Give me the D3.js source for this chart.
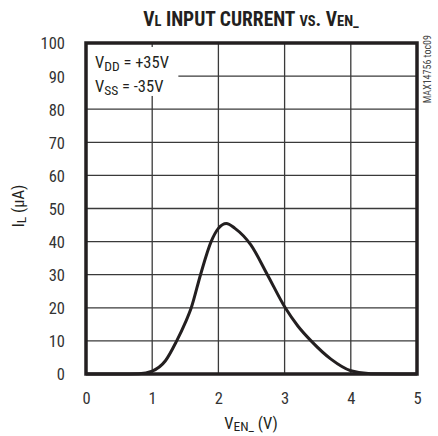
<!DOCTYPE html>
<html>
<head>
<meta charset="utf-8">
<script src="https://cdn.jsdelivr.net/npm/d3@7"></script>
<style>
  body { margin: 0; background: #fff; }
  svg { display: block; }
  text { font-family: "Roboto Condensed", "Roboto", sans-serif; font-stretch: condensed; fill: #231f20; }
  .tick text { font-size: 16.5px; font-family: "Roboto Condensed", "Roboto", sans-serif; fill: #333; }
</style>
</head>
<body>
<div class="first"></div>
<script>
// VL input current vs VEN_ curve
var ven = [0, 0.5, 0.8, 1.0, 1.2, 1.37, 1.5, 1.59, 1.73, 1.89, 2.0, 2.12, 2.25, 2.49, 2.74, 3.01, 3.2, 3.4, 3.7, 4.0, 4.3, 5];
var il  = [0, 0, 0.1, 0.9, 4, 10, 15.5, 20, 30, 40, 44, 45.5, 44, 39, 30, 20, 14.5, 10, 4.5, 1, 0.1, 0];

var xTicks = [0, 1, 2, 3, 4, 5];
var yTicks = [0, 10, 20, 30, 40, 50, 60, 70, 80, 90, 100];

var width = 438, height = 436;
var margin = {top: 43, left: 86, bottom: 62, right: 21};

var svg = d3.select("body .first")
    .append("svg")
    .attr("width", width)
    .attr("height", height);

var x = d3.scaleLinear().domain([0, 5]).range([margin.left, width - margin.right]);
var y = d3.scaleLinear().domain([0, 100]).range([height - margin.bottom, margin.top]);

// grid
svg.append("g")
    .selectAll("line.v")
    .data(xTicks.slice(1, -1))
    .enter().append("line")
    .attr("x1", function(d) { return x(d); })
    .attr("x2", function(d) { return x(d); })
    .attr("y1", y(0))
    .attr("y2", y(100))
    .attr("stroke", "#3a3a3a")
    .attr("stroke-width", 1.3);

svg.append("g")
    .selectAll("line.h")
    .data(yTicks.slice(1, -1))
    .enter().append("line")
    .attr("x1", x(0))
    .attr("x2", x(5))
    .attr("y1", function(d) { return y(d); })
    .attr("y2", function(d) { return y(d); })
    .attr("stroke", "#3a3a3a")
    .attr("stroke-width", 1.3);

// white box behind the supply annotation
svg.append("rect")
    .attr("x", x(0) + 1)
    .attr("y", y(98.8))
    .attr("width", x(1.38) - x(0))
    .attr("height", y(84) - y(98.8))
    .attr("fill", "#fff");

var ann = svg.append("text").attr("x", x(0) + 9).attr("y", y(92.5)).style("font-size", "16.5px");
ann.append("tspan").text("V");
ann.append("tspan").text("DD").attr("dy", 3).style("font-size", "13.5px");
ann.append("tspan").text(" = +35V").attr("dy", -3);
var ann2 = svg.append("text").attr("x", x(0) + 9).attr("y", y(85.2)).style("font-size", "16.5px");
ann2.append("tspan").text("V");
ann2.append("tspan").text("SS").attr("dy", 3).style("font-size", "13.5px");
ann2.append("tspan").text(" = -35V").attr("dy", -3);

// curve
var line = d3.line()
    .x(function(d, i) { return x(ven[i]); })
    .y(function(d, i) { return y(il[i]); })
    .curve(d3.curveMonotoneX);

svg.append("path")
    .datum(ven)
    .attr("d", line)
    .attr("fill", "none")
    .attr("stroke", "#231f20")
    .attr("stroke-width", 3);

// frame
svg.append("rect")
    .attr("x", x(0))
    .attr("y", y(100))
    .attr("width", x(5) - x(0))
    .attr("height", y(0) - y(100))
    .attr("fill", "none")
    .attr("stroke", "#231f20")
    .attr("stroke-width", 3.5);

// axes (labels only)
var xAxis = svg.append("g")
    .attr("transform", "translate(0," + (y(0) + 15) + ")")
    .call(d3.axisBottom(x).tickValues(xTicks).tickSize(0).tickFormat(d3.format("d")));
xAxis.select(".domain").remove();

var yAxis = svg.append("g")
    .attr("transform", "translate(" + (x(0) - 18) + ",0)")
    .call(d3.axisLeft(y).tickValues(yTicks).tickSize(0).tickFormat(d3.format("d")));
yAxis.select(".domain").remove();
yAxis.selectAll("text").attr("dy", "0.36em");

// titles
var title = svg.append("text")
    .attr("x", 251)
    .attr("y", 26)
    .attr("text-anchor", "middle")
    .style("font-size", "19.5px")
    .style("font-weight", "bold");
title.append("tspan").text("V");
title.append("tspan").text("L").style("font-size", "14.5px");
title.append("tspan").text(" INPUT CURRENT ");
title.append("tspan").text("VS").style("font-size", "14.5px");
title.append("tspan").text(". V");
title.append("tspan").text("EN_").style("font-size", "14.5px");

var xt = svg.append("text")
    .attr("x", 251)
    .attr("y", 429)
    .attr("text-anchor", "middle")
    .style("font-size", "16.5px");
xt.append("tspan").text("V");
xt.append("tspan").text("EN_").attr("dy", 2).style("font-size", "13.5px");
xt.append("tspan").text(" (V)").attr("dy", -2);

var yt = svg.append("text")
    .attr("transform", "translate(24," + 206 + ") rotate(-90)")
    .attr("text-anchor", "middle")
    .style("font-size", "16.5px");
yt.append("tspan").text("I");
yt.append("tspan").text("L").attr("dy", 2).style("font-size", "13.5px");
yt.append("tspan").text(" (µA)").attr("dy", -2);

svg.append("text")
    .attr("transform", "translate(431,35) rotate(-90)")
    .attr("text-anchor", "end")
    .style("font-size", "10px")
    .style("fill", "#444")
    .text("MAX14756 toc09");
</script>
</body>
</html>
